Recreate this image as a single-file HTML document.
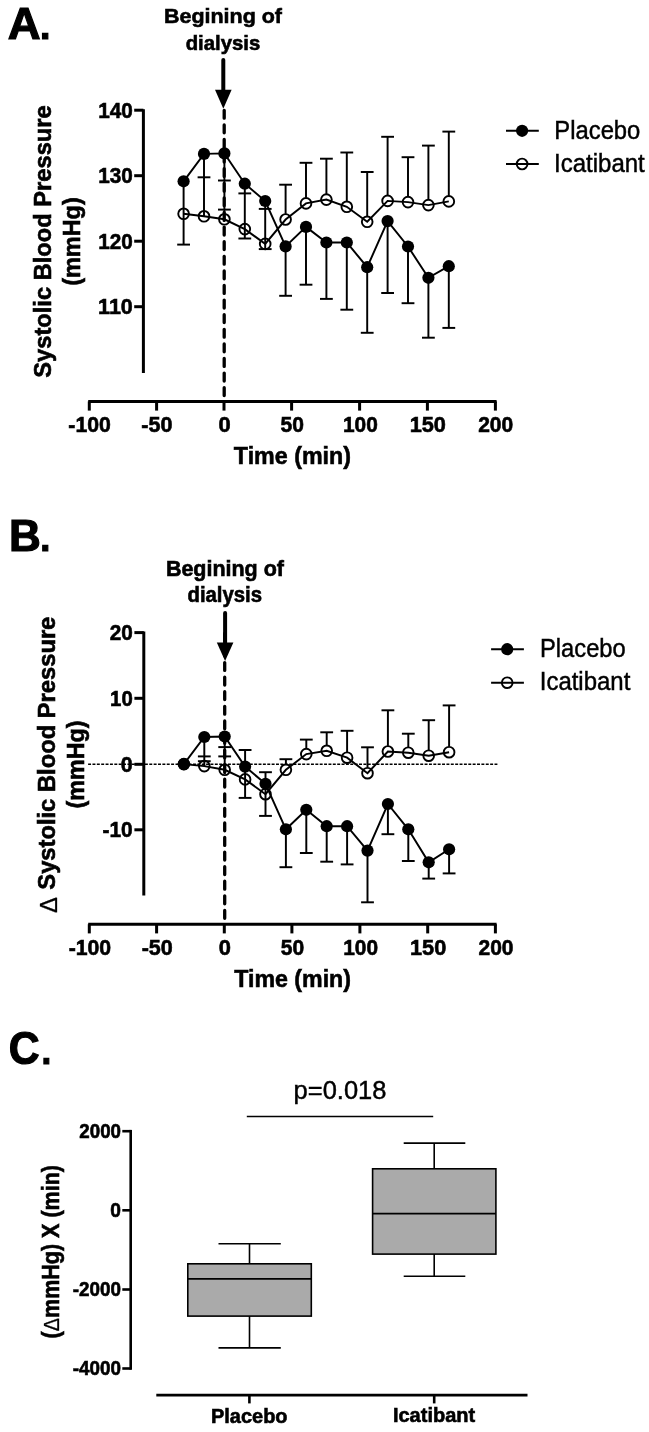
<!DOCTYPE html>
<html><head><meta charset="utf-8"><title>Figure</title>
<style>html,body{margin:0;padding:0;background:#fff}svg{display:block}text.b{stroke:#000;stroke-width:0.6px}text.r{stroke:#000;stroke-width:0.45px}text.k{stroke:#000}</style></head>
<body><svg width="649" height="1432" viewBox="0 0 649 1432" font-family="'Liberation Sans', Arial, sans-serif" font-weight="bold" fill="#000" stroke="#000">
<rect x="0" y="0" width="649" height="1432" fill="#fff" stroke="none"/>
<g>
<text class="k" stroke-width="1.2" transform="translate(7.86,39.10) scale(1.0067,1)" font-size="45.22"><tspan>A</tspan><tspan dx="-0.66" font-size="37.08">.</tspan></text>
<text class="b" transform="translate(164.00,23.40) scale(1.0218,1)" font-size="21.01">Begining of</text>
<text class="b" transform="translate(185.69,49.69) scale(0.9911,1)" font-size="20.54">dialysis</text>
<line x1="223.30" y1="60.10" x2="223.30" y2="91.70" stroke-width="4" stroke-linecap="round"/>
<polygon points="215.00,89.70 231.60,89.70 223.30,108.80" fill="#000" stroke="none"/>
<line x1="224.20" y1="110.30" x2="224.20" y2="399.00" stroke-width="3.3" stroke-dasharray="7.9 6.7" stroke-linecap="round"/>
<line x1="143.40" y1="109.20" x2="143.40" y2="372.90" stroke-width="3.0"/>
<line x1="134.20" y1="110.20" x2="143.40" y2="110.20" stroke-width="3.0"/>
<text class="b" transform="translate(98.15,117.88) scale(0.9332,1)" font-size="22.25">140</text>
<line x1="134.20" y1="175.70" x2="143.40" y2="175.70" stroke-width="3.0"/>
<text class="b" transform="translate(98.15,183.38) scale(0.9332,1)" font-size="22.25">130</text>
<line x1="134.20" y1="241.20" x2="143.40" y2="241.20" stroke-width="3.0"/>
<text class="b" transform="translate(98.15,248.88) scale(0.9332,1)" font-size="22.25">120</text>
<line x1="134.20" y1="306.70" x2="143.40" y2="306.70" stroke-width="3.0"/>
<text class="b" transform="translate(98.11,314.38) scale(0.9672,1)" font-size="22.25">110</text>
<line x1="88.20" y1="401.40" x2="496.60" y2="401.40" stroke-width="3.0"/>
<line x1="89.30" y1="401.40" x2="89.30" y2="410.60" stroke-width="3.0"/>
<line x1="156.60" y1="401.40" x2="156.60" y2="410.60" stroke-width="3.0"/>
<line x1="224.00" y1="401.40" x2="224.00" y2="410.60" stroke-width="3.0"/>
<line x1="291.60" y1="401.40" x2="291.60" y2="410.60" stroke-width="3.0"/>
<line x1="359.60" y1="401.40" x2="359.60" y2="410.60" stroke-width="3.0"/>
<line x1="427.40" y1="401.40" x2="427.40" y2="410.60" stroke-width="3.0"/>
<line x1="495.40" y1="401.40" x2="495.40" y2="410.60" stroke-width="3.0"/>
<text class="b" transform="translate(68.35,432.38) scale(0.9734,1)" font-size="21.83">-100</text>
<text class="b" transform="translate(141.34,432.38) scale(0.9866,1)" font-size="21.83">-50</text>
<text class="b" transform="translate(218.42,432.38) scale(1.0029,1)" font-size="21.83">0</text>
<text class="b" transform="translate(280.47,432.38) scale(0.9646,1)" font-size="21.83">50</text>
<text class="b" transform="translate(342.95,432.38) scale(0.9571,1)" font-size="21.83">100</text>
<text class="b" transform="translate(409.70,432.38) scale(0.9952,1)" font-size="21.83">150</text>
<text class="b" transform="translate(478.16,432.38) scale(0.9622,1)" font-size="21.83">200</text>
<text class="b" transform="translate(233.87,463.70) scale(0.9438,1)" font-size="24.64">Time (min)</text>
<text class="b" transform="translate(50.60,377.71) rotate(-90) scale(0.9784,1)" font-size="24.20">Systolic Blood Pressure</text>
<text class="b" transform="translate(79.70,285.77) rotate(-90) scale(0.9736,1)" font-size="24.06">(mmHg)</text>
<line x1="183.60" y1="181.30" x2="183.60" y2="244.60" stroke-width="1.95"/>
<line x1="177.20" y1="244.60" x2="190.00" y2="244.60" stroke-width="1.95"/>
<line x1="204.00" y1="153.90" x2="204.00" y2="216.30" stroke-width="1.95"/>
<line x1="197.60" y1="177.30" x2="210.40" y2="177.30" stroke-width="1.95"/>
<line x1="224.40" y1="153.40" x2="224.40" y2="219.30" stroke-width="1.95"/>
<line x1="218.00" y1="180.50" x2="230.80" y2="180.50" stroke-width="1.95"/>
<line x1="218.00" y1="209.60" x2="230.80" y2="209.60" stroke-width="1.95"/>
<line x1="244.80" y1="183.70" x2="244.80" y2="238.50" stroke-width="1.95"/>
<line x1="238.40" y1="193.40" x2="251.20" y2="193.40" stroke-width="1.95"/>
<line x1="238.40" y1="238.50" x2="251.20" y2="238.50" stroke-width="1.95"/>
<line x1="265.20" y1="201.00" x2="265.20" y2="249.10" stroke-width="1.95"/>
<line x1="258.80" y1="208.90" x2="271.60" y2="208.90" stroke-width="1.95"/>
<line x1="258.80" y1="249.10" x2="271.60" y2="249.10" stroke-width="1.95"/>
<line x1="285.60" y1="184.70" x2="285.60" y2="213.90" stroke-width="1.95"/>
<line x1="285.60" y1="246.40" x2="285.60" y2="295.80" stroke-width="1.95"/>
<line x1="279.20" y1="184.70" x2="292.00" y2="184.70" stroke-width="1.95"/>
<line x1="279.20" y1="295.80" x2="292.00" y2="295.80" stroke-width="1.95"/>
<line x1="306.00" y1="162.80" x2="306.00" y2="197.80" stroke-width="1.95"/>
<line x1="306.00" y1="226.90" x2="306.00" y2="284.70" stroke-width="1.95"/>
<line x1="299.60" y1="162.80" x2="312.40" y2="162.80" stroke-width="1.95"/>
<line x1="299.60" y1="284.70" x2="312.40" y2="284.70" stroke-width="1.95"/>
<line x1="326.40" y1="158.70" x2="326.40" y2="194.00" stroke-width="1.95"/>
<line x1="326.40" y1="242.50" x2="326.40" y2="298.90" stroke-width="1.95"/>
<line x1="320.00" y1="158.70" x2="332.80" y2="158.70" stroke-width="1.95"/>
<line x1="320.00" y1="298.90" x2="332.80" y2="298.90" stroke-width="1.95"/>
<line x1="346.80" y1="152.50" x2="346.80" y2="201.20" stroke-width="1.95"/>
<line x1="346.80" y1="242.50" x2="346.80" y2="309.70" stroke-width="1.95"/>
<line x1="340.40" y1="152.50" x2="353.20" y2="152.50" stroke-width="1.95"/>
<line x1="340.40" y1="309.70" x2="353.20" y2="309.70" stroke-width="1.95"/>
<line x1="367.20" y1="172.00" x2="367.20" y2="216.20" stroke-width="1.95"/>
<line x1="367.20" y1="267.20" x2="367.20" y2="332.80" stroke-width="1.95"/>
<line x1="360.80" y1="172.00" x2="373.60" y2="172.00" stroke-width="1.95"/>
<line x1="360.80" y1="332.80" x2="373.60" y2="332.80" stroke-width="1.95"/>
<line x1="387.60" y1="136.80" x2="387.60" y2="195.30" stroke-width="1.95"/>
<line x1="387.60" y1="221.10" x2="387.60" y2="293.00" stroke-width="1.95"/>
<line x1="381.20" y1="136.80" x2="394.00" y2="136.80" stroke-width="1.95"/>
<line x1="381.20" y1="293.00" x2="394.00" y2="293.00" stroke-width="1.95"/>
<line x1="408.00" y1="157.20" x2="408.00" y2="196.50" stroke-width="1.95"/>
<line x1="408.00" y1="246.50" x2="408.00" y2="303.20" stroke-width="1.95"/>
<line x1="401.60" y1="157.20" x2="414.40" y2="157.20" stroke-width="1.95"/>
<line x1="401.60" y1="303.20" x2="414.40" y2="303.20" stroke-width="1.95"/>
<line x1="428.40" y1="145.60" x2="428.40" y2="199.50" stroke-width="1.95"/>
<line x1="428.40" y1="277.80" x2="428.40" y2="337.70" stroke-width="1.95"/>
<line x1="422.00" y1="145.60" x2="434.80" y2="145.60" stroke-width="1.95"/>
<line x1="422.00" y1="337.70" x2="434.80" y2="337.70" stroke-width="1.95"/>
<line x1="448.80" y1="131.60" x2="448.80" y2="195.80" stroke-width="1.95"/>
<line x1="448.80" y1="266.20" x2="448.80" y2="327.90" stroke-width="1.95"/>
<line x1="442.40" y1="131.60" x2="455.20" y2="131.60" stroke-width="1.95"/>
<line x1="442.40" y1="327.90" x2="455.20" y2="327.90" stroke-width="1.95"/>
<polyline points="183.60,181.30 204.00,153.90 224.40,153.40 244.80,183.70 265.20,201.00 285.60,246.40 306.00,226.90 326.40,242.50 346.80,242.50 367.20,267.20 387.60,221.10 408.00,246.50 428.40,277.80 448.80,266.20" fill="none" stroke-width="1.95"/>
<polyline points="183.60,213.80 204.00,216.30 224.40,219.30 244.80,229.10 265.20,243.90 285.60,219.50 306.00,203.40 326.40,199.60 346.80,206.80 367.20,221.80 387.60,200.90 408.00,202.10 428.40,205.10 448.80,201.40" fill="none" stroke-width="1.95"/>
<circle cx="183.60" cy="213.80" r="5.35" fill="none" stroke-width="1.9"/>
<circle cx="204.00" cy="216.30" r="5.35" fill="none" stroke-width="1.9"/>
<circle cx="224.40" cy="219.30" r="5.35" fill="none" stroke-width="1.9"/>
<circle cx="244.80" cy="229.10" r="5.35" fill="none" stroke-width="1.9"/>
<circle cx="265.20" cy="243.90" r="5.35" fill="none" stroke-width="1.9"/>
<circle cx="285.60" cy="219.50" r="5.35" fill="none" stroke-width="1.9"/>
<circle cx="306.00" cy="203.40" r="5.35" fill="none" stroke-width="1.9"/>
<circle cx="326.40" cy="199.60" r="5.35" fill="none" stroke-width="1.9"/>
<circle cx="346.80" cy="206.80" r="5.35" fill="none" stroke-width="1.9"/>
<circle cx="367.20" cy="221.80" r="5.35" fill="none" stroke-width="1.9"/>
<circle cx="387.60" cy="200.90" r="5.35" fill="none" stroke-width="1.9"/>
<circle cx="408.00" cy="202.10" r="5.35" fill="none" stroke-width="1.9"/>
<circle cx="428.40" cy="205.10" r="5.35" fill="none" stroke-width="1.9"/>
<circle cx="448.80" cy="201.40" r="5.35" fill="none" stroke-width="1.9"/>
<circle cx="183.60" cy="181.30" r="6.10" fill="#000" stroke="none"/>
<circle cx="204.00" cy="153.90" r="6.10" fill="#000" stroke="none"/>
<circle cx="224.40" cy="153.40" r="6.10" fill="#000" stroke="none"/>
<circle cx="244.80" cy="183.70" r="6.10" fill="#000" stroke="none"/>
<circle cx="265.20" cy="201.00" r="6.10" fill="#000" stroke="none"/>
<circle cx="285.60" cy="246.40" r="6.10" fill="#000" stroke="none"/>
<circle cx="306.00" cy="226.90" r="6.10" fill="#000" stroke="none"/>
<circle cx="326.40" cy="242.50" r="6.10" fill="#000" stroke="none"/>
<circle cx="346.80" cy="242.50" r="6.10" fill="#000" stroke="none"/>
<circle cx="367.20" cy="267.20" r="6.10" fill="#000" stroke="none"/>
<circle cx="387.60" cy="221.10" r="6.10" fill="#000" stroke="none"/>
<circle cx="408.00" cy="246.50" r="6.10" fill="#000" stroke="none"/>
<circle cx="428.40" cy="277.80" r="6.10" fill="#000" stroke="none"/>
<circle cx="448.80" cy="266.20" r="6.10" fill="#000" stroke="none"/>
<line x1="506.00" y1="130.80" x2="538.80" y2="130.80" stroke-width="1.95"/>
<line x1="506.00" y1="164.00" x2="538.80" y2="164.00" stroke-width="1.95"/>
<circle cx="522.1" cy="130.8" r="6.10" fill="#000" stroke="none"/>
<circle cx="522.1" cy="164.0" r="5.35" fill="none" stroke-width="1.9"/>
<text class="r" transform="translate(554.32,138.78) scale(0.9365,1)" font-size="25.43" font-weight="normal">Placebo</text>
<text class="r" transform="translate(554.06,171.97) scale(0.9657,1)" font-size="24.86" font-weight="normal">Icatibant</text>
<text class="k" stroke-width="1.2" transform="translate(9.03,551.30) scale(0.9753,1)" font-size="45.22"><tspan>B</tspan><tspan dx="-0.75" font-size="37.08">.</tspan></text>
<text class="b" transform="translate(165.90,576.20) scale(0.9952,1)" font-size="21.59">Begining of</text>
<text class="b" transform="translate(187.49,602.49) scale(0.9520,1)" font-size="21.36">dialysis</text>
<line x1="225.10" y1="613.10" x2="225.10" y2="644.50" stroke-width="4" stroke-linecap="round"/>
<polygon points="216.80,642.50 233.40,642.50 225.10,661.00" fill="#000" stroke="none"/>
<line x1="224.70" y1="633.40" x2="224.70" y2="922.00" stroke-width="3.3" stroke-dasharray="7.9 6.68" stroke-linecap="round"/>
<line x1="143.80" y1="631.40" x2="143.80" y2="895.50" stroke-width="3.0"/>
<line x1="134.40" y1="632.60" x2="143.80" y2="632.60" stroke-width="3.0"/>
<line x1="134.40" y1="698.30" x2="143.80" y2="698.30" stroke-width="3.0"/>
<line x1="134.40" y1="764.30" x2="143.80" y2="764.30" stroke-width="3.0"/>
<line x1="134.40" y1="829.80" x2="143.80" y2="829.80" stroke-width="3.0"/>
<text class="b" transform="translate(109.67,640.38) scale(0.9454,1)" font-size="21.97">20</text>
<text class="b" transform="translate(110.08,705.68) scale(0.9283,1)" font-size="21.97">10</text>
<text class="b" transform="translate(120.84,771.58) scale(0.9773,1)" font-size="21.97">0</text>
<text class="b" transform="translate(102.56,837.08) scale(0.9503,1)" font-size="21.97">-10</text>
<line x1="88.10" y1="764.25" x2="497.40" y2="764.25" stroke-width="1.7" stroke-dasharray="2.95 1.42"/>
<line x1="88.20" y1="924.20" x2="496.60" y2="924.20" stroke-width="3.0"/>
<line x1="89.30" y1="924.20" x2="89.30" y2="933.40" stroke-width="3.0"/>
<line x1="156.60" y1="924.20" x2="156.60" y2="933.40" stroke-width="3.0"/>
<line x1="224.30" y1="924.20" x2="224.30" y2="933.40" stroke-width="3.0"/>
<line x1="291.90" y1="924.20" x2="291.90" y2="933.40" stroke-width="3.0"/>
<line x1="359.90" y1="924.20" x2="359.90" y2="933.40" stroke-width="3.0"/>
<line x1="427.70" y1="924.20" x2="427.70" y2="933.40" stroke-width="3.0"/>
<line x1="495.40" y1="924.20" x2="495.40" y2="933.40" stroke-width="3.0"/>
<text class="b" transform="translate(68.65,955.48) scale(0.9734,1)" font-size="21.83">-100</text>
<text class="b" transform="translate(141.64,955.48) scale(0.9866,1)" font-size="21.83">-50</text>
<text class="b" transform="translate(218.72,955.48) scale(1.0029,1)" font-size="21.83">0</text>
<text class="b" transform="translate(280.77,955.48) scale(0.9646,1)" font-size="21.83">50</text>
<text class="b" transform="translate(343.25,955.48) scale(0.9571,1)" font-size="21.83">100</text>
<text class="b" transform="translate(410.00,955.48) scale(0.9952,1)" font-size="21.83">150</text>
<text class="b" transform="translate(478.46,955.48) scale(0.9622,1)" font-size="21.83">200</text>
<text class="b" transform="translate(234.27,986.50) scale(0.9469,1)" font-size="24.49">Time (min)</text>
<text class="b" transform="translate(55.40,913.01) rotate(-90) scale(0.9694,1)" font-size="24.49"><tspan font-weight="normal" stroke-width="0.3" font-size="24.49" dy="1.9">Δ</tspan><tspan dy="-1.9" dx="0.9"> Systolic Blood Pressure</tspan></text>
<text class="b" transform="translate(84.20,808.46) rotate(-90) scale(0.9680,1)" font-size="24.06">(mmHg)</text>
<line x1="183.90" y1="764.10" x2="183.90" y2="764.10" stroke-width="1.95"/>
<line x1="204.30" y1="737.00" x2="204.30" y2="766.10" stroke-width="1.95"/>
<line x1="197.90" y1="756.40" x2="210.70" y2="756.40" stroke-width="1.95"/>
<line x1="197.90" y1="761.20" x2="210.70" y2="761.20" stroke-width="1.95"/>
<line x1="224.70" y1="736.50" x2="224.70" y2="769.80" stroke-width="1.95"/>
<line x1="218.30" y1="747.10" x2="231.10" y2="747.10" stroke-width="1.95"/>
<line x1="218.30" y1="756.40" x2="231.10" y2="756.40" stroke-width="1.95"/>
<line x1="245.10" y1="750.00" x2="245.10" y2="797.90" stroke-width="1.95"/>
<line x1="238.70" y1="750.00" x2="251.50" y2="750.00" stroke-width="1.95"/>
<line x1="238.70" y1="797.90" x2="251.50" y2="797.90" stroke-width="1.95"/>
<line x1="265.50" y1="772.20" x2="265.50" y2="815.90" stroke-width="1.95"/>
<line x1="259.10" y1="772.20" x2="271.90" y2="772.20" stroke-width="1.95"/>
<line x1="259.10" y1="815.90" x2="271.90" y2="815.90" stroke-width="1.95"/>
<line x1="285.90" y1="759.20" x2="285.90" y2="764.20" stroke-width="1.95"/>
<line x1="285.90" y1="829.30" x2="285.90" y2="867.20" stroke-width="1.95"/>
<line x1="279.50" y1="759.20" x2="292.30" y2="759.20" stroke-width="1.95"/>
<line x1="279.50" y1="867.20" x2="292.30" y2="867.20" stroke-width="1.95"/>
<line x1="306.30" y1="739.60" x2="306.30" y2="748.50" stroke-width="1.95"/>
<line x1="306.30" y1="809.80" x2="306.30" y2="853.00" stroke-width="1.95"/>
<line x1="299.90" y1="739.60" x2="312.70" y2="739.60" stroke-width="1.95"/>
<line x1="299.90" y1="853.00" x2="312.70" y2="853.00" stroke-width="1.95"/>
<line x1="326.70" y1="732.30" x2="326.70" y2="745.20" stroke-width="1.95"/>
<line x1="326.70" y1="826.20" x2="326.70" y2="861.70" stroke-width="1.95"/>
<line x1="320.30" y1="732.30" x2="333.10" y2="732.30" stroke-width="1.95"/>
<line x1="320.30" y1="861.70" x2="333.10" y2="861.70" stroke-width="1.95"/>
<line x1="347.10" y1="730.80" x2="347.10" y2="752.10" stroke-width="1.95"/>
<line x1="347.10" y1="826.20" x2="347.10" y2="864.40" stroke-width="1.95"/>
<line x1="340.70" y1="730.80" x2="353.50" y2="730.80" stroke-width="1.95"/>
<line x1="340.70" y1="864.40" x2="353.50" y2="864.40" stroke-width="1.95"/>
<line x1="367.50" y1="747.30" x2="367.50" y2="767.60" stroke-width="1.95"/>
<line x1="367.50" y1="850.60" x2="367.50" y2="902.30" stroke-width="1.95"/>
<line x1="361.10" y1="747.30" x2="373.90" y2="747.30" stroke-width="1.95"/>
<line x1="361.10" y1="902.30" x2="373.90" y2="902.30" stroke-width="1.95"/>
<line x1="387.90" y1="710.30" x2="387.90" y2="745.90" stroke-width="1.95"/>
<line x1="387.90" y1="804.00" x2="387.90" y2="834.20" stroke-width="1.95"/>
<line x1="381.50" y1="710.30" x2="394.30" y2="710.30" stroke-width="1.95"/>
<line x1="381.50" y1="834.20" x2="394.30" y2="834.20" stroke-width="1.95"/>
<line x1="408.30" y1="733.70" x2="408.30" y2="747.10" stroke-width="1.95"/>
<line x1="408.30" y1="829.30" x2="408.30" y2="861.00" stroke-width="1.95"/>
<line x1="401.90" y1="733.70" x2="414.70" y2="733.70" stroke-width="1.95"/>
<line x1="401.90" y1="861.00" x2="414.70" y2="861.00" stroke-width="1.95"/>
<line x1="428.70" y1="720.20" x2="428.70" y2="750.10" stroke-width="1.95"/>
<line x1="428.70" y1="862.30" x2="428.70" y2="878.60" stroke-width="1.95"/>
<line x1="422.30" y1="720.20" x2="435.10" y2="720.20" stroke-width="1.95"/>
<line x1="422.30" y1="878.60" x2="435.10" y2="878.60" stroke-width="1.95"/>
<line x1="449.10" y1="705.40" x2="449.10" y2="746.60" stroke-width="1.95"/>
<line x1="449.10" y1="849.30" x2="449.10" y2="873.40" stroke-width="1.95"/>
<line x1="442.70" y1="705.40" x2="455.50" y2="705.40" stroke-width="1.95"/>
<line x1="442.70" y1="873.40" x2="455.50" y2="873.40" stroke-width="1.95"/>
<polyline points="183.90,764.10 204.30,737.00 224.70,736.50 245.10,766.60 265.50,783.80 285.90,829.30 306.30,809.80 326.70,826.20 347.10,826.20 367.50,850.60 387.90,804.00 408.30,829.30 428.70,862.30 449.10,849.30" fill="none" stroke-width="1.95"/>
<polyline points="183.90,764.10 204.30,766.10 224.70,769.80 245.10,779.40 265.50,794.20 285.90,769.80 306.30,754.10 326.70,750.80 347.10,757.70 367.50,773.20 387.90,751.50 408.30,752.70 428.70,755.70 449.10,752.20" fill="none" stroke-width="1.95"/>
<circle cx="183.90" cy="764.10" r="5.35" fill="none" stroke-width="1.9"/>
<circle cx="204.30" cy="766.10" r="5.35" fill="none" stroke-width="1.9"/>
<circle cx="224.70" cy="769.80" r="5.35" fill="none" stroke-width="1.9"/>
<circle cx="245.10" cy="779.40" r="5.35" fill="none" stroke-width="1.9"/>
<circle cx="265.50" cy="794.20" r="5.35" fill="none" stroke-width="1.9"/>
<circle cx="285.90" cy="769.80" r="5.35" fill="none" stroke-width="1.9"/>
<circle cx="306.30" cy="754.10" r="5.35" fill="none" stroke-width="1.9"/>
<circle cx="326.70" cy="750.80" r="5.35" fill="none" stroke-width="1.9"/>
<circle cx="347.10" cy="757.70" r="5.35" fill="none" stroke-width="1.9"/>
<circle cx="367.50" cy="773.20" r="5.35" fill="none" stroke-width="1.9"/>
<circle cx="387.90" cy="751.50" r="5.35" fill="none" stroke-width="1.9"/>
<circle cx="408.30" cy="752.70" r="5.35" fill="none" stroke-width="1.9"/>
<circle cx="428.70" cy="755.70" r="5.35" fill="none" stroke-width="1.9"/>
<circle cx="449.10" cy="752.20" r="5.35" fill="none" stroke-width="1.9"/>
<circle cx="183.90" cy="764.10" r="6.10" fill="#000" stroke="none"/>
<circle cx="204.30" cy="737.00" r="6.10" fill="#000" stroke="none"/>
<circle cx="224.70" cy="736.50" r="6.10" fill="#000" stroke="none"/>
<circle cx="245.10" cy="766.60" r="6.10" fill="#000" stroke="none"/>
<circle cx="265.50" cy="783.80" r="6.10" fill="#000" stroke="none"/>
<circle cx="285.90" cy="829.30" r="6.10" fill="#000" stroke="none"/>
<circle cx="306.30" cy="809.80" r="6.10" fill="#000" stroke="none"/>
<circle cx="326.70" cy="826.20" r="6.10" fill="#000" stroke="none"/>
<circle cx="347.10" cy="826.20" r="6.10" fill="#000" stroke="none"/>
<circle cx="367.50" cy="850.60" r="6.10" fill="#000" stroke="none"/>
<circle cx="387.90" cy="804.00" r="6.10" fill="#000" stroke="none"/>
<circle cx="408.30" cy="829.30" r="6.10" fill="#000" stroke="none"/>
<circle cx="428.70" cy="862.30" r="6.10" fill="#000" stroke="none"/>
<circle cx="449.10" cy="849.30" r="6.10" fill="#000" stroke="none"/>
<line x1="491.10" y1="649.20" x2="523.90" y2="649.20" stroke-width="1.95"/>
<line x1="491.10" y1="682.70" x2="523.90" y2="682.70" stroke-width="1.95"/>
<circle cx="507.2" cy="649.2" r="6.10" fill="#000" stroke="none"/>
<circle cx="507.2" cy="682.7" r="5.35" fill="none" stroke-width="1.9"/>
<text class="r" transform="translate(540.03,657.07) scale(0.9320,1)" font-size="25.43" font-weight="normal">Placebo</text>
<text class="r" transform="translate(539.77,690.38) scale(0.9635,1)" font-size="24.86" font-weight="normal">Icatibant</text>
<text class="k" stroke-width="1.2" transform="translate(8.79,1063.74) scale(0.9310,1)" font-size="45.92"><tspan>C</tspan><tspan dx="1.89" font-size="37.65">.</tspan></text>
<text class="r" transform="translate(293.57,1099.12) scale(1.0087,1)" font-size="25.28" font-weight="normal">p=0.018</text>
<line x1="246.80" y1="1116.60" x2="433.20" y2="1116.60" stroke-width="1.5"/>
<line x1="130.70" y1="1129.90" x2="130.70" y2="1369.80" stroke-width="2.6"/>
<line x1="122.30" y1="1131.20" x2="130.70" y2="1131.20" stroke-width="2.6"/>
<line x1="122.30" y1="1210.30" x2="130.70" y2="1210.30" stroke-width="2.6"/>
<line x1="122.30" y1="1289.50" x2="130.70" y2="1289.50" stroke-width="2.6"/>
<line x1="122.30" y1="1368.50" x2="130.70" y2="1368.50" stroke-width="2.6"/>
<text class="b" transform="translate(79.35,1138.01) scale(0.9690,1)" font-size="19.30">2000</text>
<text class="b" transform="translate(110.33,1217.01) scale(0.9857,1)" font-size="19.44">0</text>
<text class="b" transform="translate(72.85,1296.31) scale(0.9687,1)" font-size="19.44">-2000</text>
<text class="b" transform="translate(72.85,1375.21) scale(0.9687,1)" font-size="19.44">-4000</text>
<line x1="156.30" y1="1395.10" x2="527.50" y2="1395.10" stroke-width="2.8"/>
<line x1="249.40" y1="1395.10" x2="249.40" y2="1403.40" stroke-width="2.6"/>
<line x1="434.20" y1="1395.10" x2="434.20" y2="1403.40" stroke-width="2.6"/>
<text class="b" transform="translate(211.00,1422.50) scale(0.9705,1)" font-size="20.58">Placebo</text>
<text class="b" transform="translate(392.90,1422.40) scale(0.9799,1)" font-size="20.43">Icatibant</text>
<text class="b" transform="translate(59.00,1338.38) rotate(-90) scale(0.9059,1)" font-size="23.77">(<tspan font-weight="normal" stroke-width="0.3" font-size="21.87" dy="0.3">Δ</tspan><tspan dy="-0.3" dx="0">mmHg) X (min)</tspan></text>
<line x1="249.50" y1="1243.80" x2="249.50" y2="1347.90" stroke-width="1.6"/>
<line x1="218.50" y1="1243.80" x2="280.80" y2="1243.80" stroke-width="1.6"/>
<line x1="218.50" y1="1347.90" x2="280.80" y2="1347.90" stroke-width="1.6"/>
<rect x="187.8" y="1263.8" width="123.50" height="52.30" fill="#aaaaaa" stroke-width="1.6"/>
<line x1="187.80" y1="1278.90" x2="311.30" y2="1278.90" stroke-width="1.6"/>
<line x1="434.20" y1="1143.10" x2="434.20" y2="1276.30" stroke-width="1.6"/>
<line x1="403.70" y1="1143.10" x2="465.30" y2="1143.10" stroke-width="1.6"/>
<line x1="403.70" y1="1276.30" x2="465.30" y2="1276.30" stroke-width="1.6"/>
<rect x="372.6" y="1168.8" width="123.30" height="85.30" fill="#aaaaaa" stroke-width="1.6"/>
<line x1="372.60" y1="1213.60" x2="495.90" y2="1213.60" stroke-width="1.6"/>
</g></svg></body></html>
